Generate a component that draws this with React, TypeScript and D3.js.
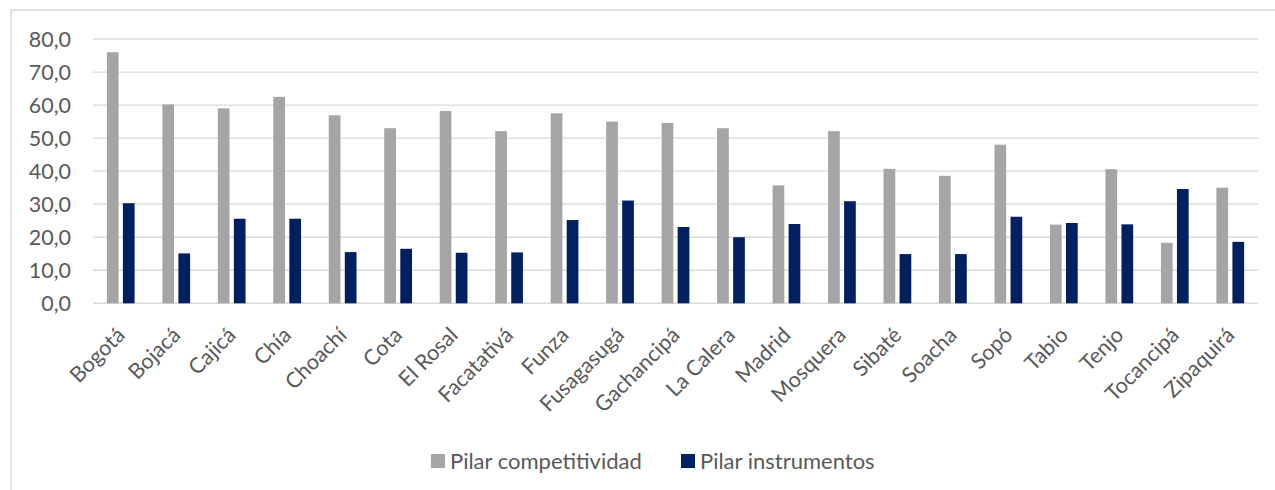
import React from "react";
import * as d3 from "d3";

const municipios = [
  "Bogotá", "Bojacá", "Cajicá", "Chía", "Choachí", "Cota", "El Rosal",
  "Facatativá", "Funza", "Fusagasugá", "Gachancipá", "La Calera", "Madrid",
  "Mosquera", "Sibaté", "Soacha", "Sopó", "Tabio", "Tenjo", "Tocancipá", "Zipaquirá",
];

const competitividad = [
  76.0, 60.2, 59.0, 62.5, 56.9, 53.0, 58.2, 52.1, 57.5, 55.0, 54.6,
  53.0, 35.7, 52.1, 40.7, 38.6, 48.0, 23.8, 40.6, 18.3, 35.0,
];

const instrumentos = [
  30.3, 15.1, 25.6, 25.6, 15.5, 16.5, 15.3, 15.4, 25.2, 31.1, 23.1,
  20.0, 24.0, 30.9, 14.9, 14.9, 26.2, 24.3, 23.9, 34.6, 18.6,
];

const seriesNames = ["Pilar competitividad", "Pilar instrumentos"];
const seriesColors = ["#A5A5A5", "#002060"];
const yTicks = [0, 10, 20, 30, 40, 50, 60, 70, 80];

const W = 1275;
const H = 490;
const font = "Lato, 'Open Sans', sans-serif";
const textColor = "#595959";
const gridColor = "#D9D9D9";

export default function App() {
  const left = 93;
  const right = 1258;
  const top = 39;
  const bottom = 303.3;

  const y = d3.scaleLinear().domain([0, 80]).range([bottom, top]);
  const x0 = d3
    .scaleBand<string>()
    .domain(municipios)
    .range([left, right])
    .paddingInner(0.5)
    .paddingOuter(0.25);
  const x1 = d3
    .scaleBand<string>()
    .domain(seriesNames)
    .range([0, x0.bandwidth()])
    .paddingInner(0.27);

  const series = [competitividad, instrumentos];
  const fmt = (v: number) => d3.format(".1f")(v).replace(".", ",");

  // legend layout
  const legendY = 461;
  const legendItems = [
    { name: seriesNames[0], color: seriesColors[0], sx: 431, tx: 450 },
    { name: seriesNames[1], color: seriesColors[1], sx: 681, tx: 700 },
  ];

  return (
    <svg
      width={W}
      height={H}
      style={{ position: "absolute", left: 0, top: 0, background: "#fff" }}
      fontFamily={font}
    >
      <rect x={0} y={0} width={W} height={H} fill="#fff" />
      {/* chart frame */}
      <rect
        x={11}
        y={10}
        width={W + 20}
        height={H + 20}
        fill="none"
        stroke={gridColor}
        strokeWidth={1.5}
      />

      {/* gridlines */}
      {yTicks.map((t) => (
        <line
          key={t}
          x1={left}
          x2={right}
          y1={y(t)}
          y2={y(t)}
          stroke={gridColor}
          strokeWidth={t === 0 ? 1.6 : 1.3}
        />
      ))}

      {/* y tick labels */}
      {yTicks.map((t) => (
        <text
          key={t}
          x={71}
          y={y(t)}
          dy="0.36em"
          textAnchor="end"
          fontSize={21.5}
          fill={textColor}
        >
          {fmt(t)}
        </text>
      ))}

      {/* bars */}
      {series.map((vals, si) =>
        municipios.map((m, i) => (
          <rect
            key={`${si}-${m}`}
            x={(x0(m) ?? 0) + (x1(seriesNames[si]) ?? 0)}
            y={y(vals[i])}
            width={x1.bandwidth()}
            height={y(0) - y(vals[i])}
            fill={seriesColors[si]}
          />
        ))
      )}

      {/* x labels */}
      {municipios.map((m) => {
        const cx = (x0(m) ?? 0) + x0.bandwidth() / 2;
        return (
          <text
            key={m}
            transform={`translate(${cx},331) rotate(-45)`}
            textAnchor="end"
            dy="0.36em"
            fontSize={21.5}
            fill={textColor}
          >
            {m}
          </text>
        );
      })}

      {/* legend */}
      {legendItems.map((it) => (
        <g key={it.name}>
          <rect x={it.sx} y={legendY - 7} width={14} height={14} fill={it.color} />
          <text x={it.tx} y={legendY} dy="0.36em" fontSize={22} fill={textColor}>
            {it.name}
          </text>
        </g>
      ))}
    </svg>
  );
}
